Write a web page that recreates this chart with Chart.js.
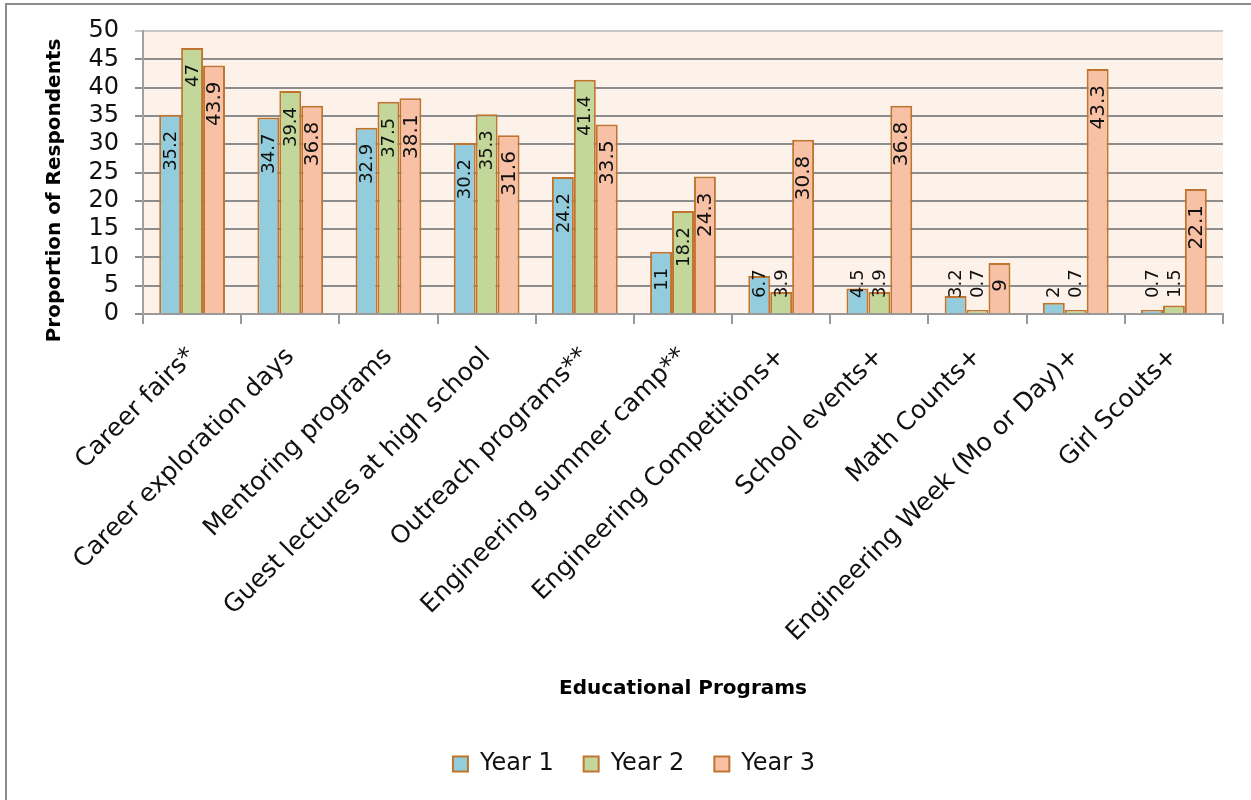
<!DOCTYPE html>
<html>
<head>
<meta charset="utf-8">
<script src="https://cdn.jsdelivr.net/npm/chart.js@4.4.1/dist/chart.umd.min.js"></script>
<style>
  html, body { margin: 0; padding: 0; background: #fff; }
  #wrap { width: 1251px; height: 800px; position: relative; }
</style>
</head>
<body>
<div id="wrap"><canvas id="programChart"></canvas></div>
<script>
const programs = [
    'Career fairs*', 'Career exploration days', 'Mentoring programs',
    'Guest lectures at high school', 'Outreach programs**', 'Engineering summer camp**',
    'Engineering Competitions+', 'School events+', 'Math Counts+',
    'Engineering Week (Mo or Day)+', 'Girl Scouts+'
];
const year1 = [35.2, 34.7, 32.9, 30.2, 24.2, 11, 6.7, 4.5, 3.2, 2, 0.7];
const year2 = [47, 39.4, 37.5, 35.3, 41.4, 18.2, 3.9, 3.9, 0.7, 0.7, 1.5];
const year3 = [43.9, 36.8, 38.1, 31.6, 33.5, 24.3, 30.8, 36.8, 9, 43.3, 22.1];
const seriesNames = ['Year 1', 'Year 2', 'Year 3'];
const yTicks = [0, 5, 10, 15, 20, 25, 30, 35, 40, 45, 50];

const FONT = "'DejaVu Sans', sans-serif";
const edge = '#c0752f';

// peach plot background, outer frame, axis title and bar labels
const decor = {
    id: 'decor',
    beforeDraw(chart) {
        const { ctx, chartArea: a } = chart;
        ctx.save();
        ctx.fillStyle = '#fdf2ea';
        ctx.fillRect(a.left, a.top, a.right - a.left, a.bottom - a.top);
        ctx.restore();
    },
    afterDatasetsDraw(chart) {
        const { ctx, chartArea: a } = chart;
        chart.data.datasets.forEach((ds, i) => {
            const meta = chart.getDatasetMeta(i);
            ctx.save();
            ctx.font = (i === 2 ? '20px ' : '18px ') + FONT;
            ctx.fillStyle = '#111';
            ctx.textAlign = 'right';
            ctx.textBaseline = 'middle';
            meta.data.forEach((bar, j) => {
                const txt = String(ds.data[j]);
                const w = ctx.measureText(txt).width;
                const y = Math.min(bar.y + 16, a.bottom - 16 - w);
                ctx.save();
                ctx.translate(bar.x + 1, y);
                ctx.rotate(-Math.PI / 2);
                ctx.fillText(txt, 0, 0);
                ctx.restore();
            });
            ctx.restore();
        });
    },
    afterDraw(chart) {
        const { ctx, chartArea: a } = chart;
        ctx.save();
        ctx.strokeStyle = '#8c8c8c';
        ctx.lineWidth = 2;
        ctx.beginPath();
        ctx.moveTo(6, 800);
        ctx.lineTo(6, 4);
        ctx.lineTo(1251, 4);
        ctx.stroke();
        ctx.translate(a.left - 88, (a.top + a.bottom) / 2 + 18);
        ctx.rotate(-Math.PI / 2);
        ctx.font = 'bold 20px ' + FONT;
        ctx.fillStyle = '#000';
        ctx.textAlign = 'center';
        ctx.textBaseline = 'middle';
        ctx.fillText('Proportion of Respondents', 0, 0);
        ctx.restore();
    }
};

const fills = ['#93cddd', '#c4d79b', '#f8c1a6'];
const values = [year1, year2, year3];

new Chart(document.getElementById('programChart'), {
    type: 'bar',
    data: {
        labels: programs,
        datasets: seriesNames.map((name, i) => ({
            label: name,
            data: values[i],
            backgroundColor: fills[i],
            borderColor: edge,
            borderWidth: 2,
            borderSkipped: 'bottom',
            barPercentage: 1.0,
            categoryPercentage: 0.67
        }))
    },
    options: {
        responsive: true,
        maintainAspectRatio: false,
        animation: false,
        layout: { padding: { left: 45, right: 28, top: 31, bottom: 14 } },
        plugins: {
            legend: {
                position: 'bottom',
                labels: {
                    font: { family: FONT, size: 24 },
                    color: '#111',
                    boxWidth: 15,
                    boxHeight: 15,
                    padding: 30
                }
            },
            tooltip: { enabled: false }
        },
        scales: {
            x: {
                afterFit(scale) {
                    scale.height = 408;
                },
                grid: {
                    drawOnChartArea: false,
                    color: '#999',
                    lineWidth: 2,
                    tickLength: 10
                },
                border: { color: '#999', width: 2 },
                ticks: {
                    autoSkip: false,
                    minRotation: 45,
                    maxRotation: 45,
                    padding: 18,
                    color: '#111',
                    font: { family: FONT, size: 25 }
                },
                title: {
                    display: true,
                    text: 'Educational Programs',
                    color: '#000',
                    font: { family: FONT, size: 20, weight: 'bold' },
                    padding: { top: 57, bottom: 21 }
                }
            },
            y: {
                min: 0,
                max: 50,
                afterBuildTicks(scale) {
                    scale.ticks = yTicks.map(v => ({ value: v }));
                },
                afterFit(scale) {
                    scale.width = 98;
                },
                grid: {
                    color: ctx => (ctx.tick && ctx.tick.value === 50 ? '#c8c8c8' : '#8c8c8c'),
                    lineWidth: 2,
                    tickLength: 8
                },
                border: { color: '#a0a0a0', width: 2 },
                ticks: {
                    autoSkip: false,
                    padding: 16,
                    color: '#111',
                    font: { family: FONT, size: 24 }
                }
            }
        }
    },
    plugins: [decor]
});
</script>
</body>
</html>
